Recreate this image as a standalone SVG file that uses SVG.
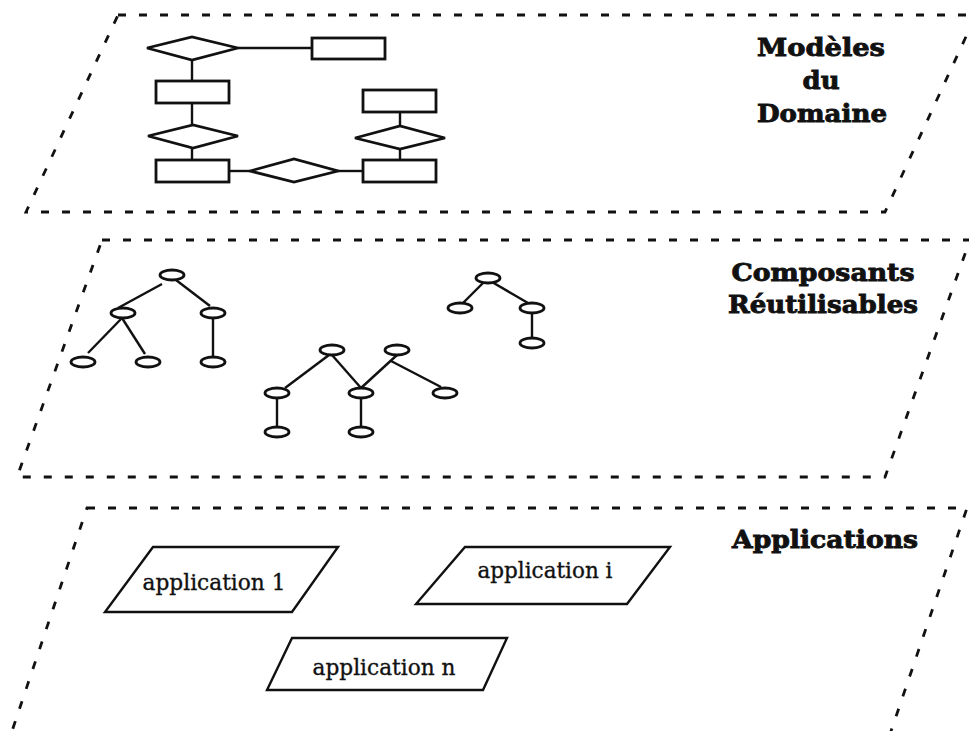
<svg xmlns="http://www.w3.org/2000/svg" width="969" height="731" viewBox="0 0 969 731">
<style>
.layer{fill:none;stroke:#111;stroke-width:2.8;stroke-dasharray:8 13;stroke-linecap:butt}
.box{fill:#fff;stroke:#111;stroke-width:2.8}
.edge{fill:none;stroke:#111;stroke-width:2.4}
.node{fill:#fff;stroke:#111;stroke-width:2.8}
.app{fill:#fff;stroke:#111;stroke-width:2.4;stroke-linejoin:miter}
.title{font-family:"DejaVu Serif","Liberation Serif",serif;font-weight:bold;font-size:25px;fill:#111;stroke:#111;stroke-width:0.9;text-anchor:middle}
.lbl{font-family:"DejaVu Serif","Liberation Serif",serif;font-size:22px;fill:#111;stroke:#111;stroke-width:0.35;text-anchor:middle}
</style>
<rect width="969" height="731" fill="#fff"/>
<g id="layers">
  <path id="layer-domaine" class="layer" d="M118,15 L976,15 L885,212 L26,212 Z"/>
  <path id="layer-composants" class="layer" d="M102,240 L970,240 L885,477 L17,477 Z"/>
  <path id="layer-applications" class="layer" d="M87,508 L967,508 L888,740 L9,740 Z"/>
</g>
<g id="connectors">
  <line class="edge" x1="238" y1="48" x2="312" y2="48"/>
  <line class="edge" x1="192" y1="60" x2="192" y2="81"/>
  <line class="edge" x1="192" y1="103" x2="192" y2="125"/>
  <line class="edge" x1="192" y1="148" x2="192" y2="160"/>
  <line class="edge" x1="229" y1="171" x2="250" y2="171"/>
  <line class="edge" x1="338" y1="171" x2="363" y2="171"/>
  <line class="edge" x1="400" y1="112" x2="400" y2="126"/>
  <line class="edge" x1="400" y1="149" x2="400" y2="160"/>
  <line class="edge" x1="162" y1="284" x2="118" y2="308"/>
  <line class="edge" x1="176" y1="280" x2="210" y2="306"/>
  <line class="edge" x1="122" y1="318" x2="88" y2="353"/>
  <line class="edge" x1="122" y1="318" x2="145" y2="354"/>
  <line class="edge" x1="213" y1="318" x2="213" y2="357"/>
  <line class="edge" x1="484" y1="282" x2="463" y2="303"/>
  <line class="edge" x1="492" y1="282" x2="528" y2="303"/>
  <line class="edge" x1="532" y1="313" x2="532" y2="338"/>
  <line class="edge" x1="329" y1="355" x2="285" y2="388"/>
  <line class="edge" x1="332" y1="355" x2="361" y2="388"/>
  <line class="edge" x1="397" y1="355" x2="361" y2="388"/>
  <line class="edge" x1="391" y1="361" x2="441" y2="387"/>
  <line class="edge" x1="277" y1="398" x2="277" y2="427"/>
  <line class="edge" x1="361" y1="398" x2="361" y2="427"/>
</g>
<g id="er-model">
  <polygon id="rel1" class="box" points="147,48 192,37 238,48 192,60"/>
  <rect id="ent1" class="box" x="312" y="38" width="73" height="21"/>
  <rect id="ent2" class="box" x="156" y="81" width="73" height="22"/>
  <polygon id="rel2" class="box" points="148,136 193,125 238,136 193,148"/>
  <rect id="ent3" class="box" x="156" y="160" width="73" height="22"/>
  <polygon id="rel3" class="box" points="250,171 294,159 338,171 294,182"/>
  <rect id="ent4" class="box" x="363" y="160" width="73" height="22"/>
  <rect id="ent5" class="box" x="363" y="90" width="73" height="22"/>
  <polygon id="rel4" class="box" points="355,138 400,126 445,138 400,149"/>
</g>
<g id="trees">
  <ellipse id="t1-root" class="node" cx="172" cy="275" rx="12" ry="5"/>
  <ellipse id="t1-c1" class="node" cx="123" cy="313" rx="12" ry="5"/>
  <ellipse id="t1-c2" class="node" cx="213" cy="313" rx="12" ry="5"/>
  <ellipse id="t1-g1" class="node" cx="83" cy="362" rx="12" ry="5"/>
  <ellipse id="t1-g2" class="node" cx="148" cy="362" rx="12" ry="5"/>
  <ellipse id="t1-g3" class="node" cx="213" cy="362" rx="12" ry="5"/>
  <ellipse id="t2-root" class="node" cx="488" cy="278" rx="12" ry="5"/>
  <ellipse id="t2-c1" class="node" cx="460" cy="308" rx="12" ry="5"/>
  <ellipse id="t2-c2" class="node" cx="532" cy="308" rx="12" ry="5"/>
  <ellipse id="t2-g1" class="node" cx="532" cy="343" rx="12" ry="5"/>
  <ellipse id="t3-a" class="node" cx="332" cy="350" rx="12" ry="5"/>
  <ellipse id="t3-b" class="node" cx="397" cy="350" rx="12" ry="5"/>
  <ellipse id="t3-d" class="node" cx="277" cy="393" rx="12" ry="5"/>
  <ellipse id="t3-e" class="node" cx="361" cy="393" rx="12" ry="5"/>
  <ellipse id="t3-f" class="node" cx="445" cy="393" rx="12" ry="5"/>
  <ellipse id="t3-h" class="node" cx="277" cy="432" rx="12" ry="5"/>
  <ellipse id="t3-k" class="node" cx="361" cy="432" rx="12" ry="5"/>
</g>
<g id="app-1">
  <polygon class="app" points="153,547 338,547 292,612 105,612"/>
  <text class="lbl" x="214" y="590" textLength="143" lengthAdjust="spacingAndGlyphs">application 1</text>
</g>
<g id="app-i">
  <polygon class="app" points="465,547 670,547 627,604 416,604"/>
  <text class="lbl" x="545" y="578" textLength="135" lengthAdjust="spacingAndGlyphs">application i</text>
</g>
<g id="app-n">
  <polygon class="app" points="292,638 507,638 483,690 267,690"/>
  <text class="lbl" x="384" y="675" textLength="143" lengthAdjust="spacingAndGlyphs">application n</text>
</g>
<g id="titles">
  <text class="title" x="821" y="56" textLength="128" lengthAdjust="spacingAndGlyphs">Modèles</text>
  <text class="title" x="821" y="89" textLength="37" lengthAdjust="spacingAndGlyphs">du</text>
  <text class="title" x="822" y="122" textLength="130" lengthAdjust="spacingAndGlyphs">Domaine</text>
  <text class="title" x="823" y="281" textLength="183" lengthAdjust="spacingAndGlyphs">Composants</text>
  <text class="title" x="823" y="313" textLength="190" lengthAdjust="spacingAndGlyphs">Réutilisables</text>
  <text class="title" x="825" y="548" textLength="186" lengthAdjust="spacingAndGlyphs">Applications</text>
</g>
</svg>
